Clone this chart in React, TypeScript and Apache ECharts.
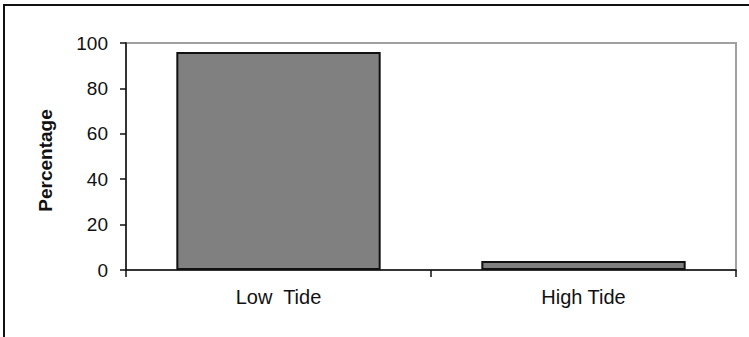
import React, { useEffect, useRef } from "react";
import * as echarts from "echarts";

const categories = ["Low  Tide", "High Tide"];
const percentages = [96, 4];
const yAxisTitle = "Percentage";

export default function App() {
  const ref = useRef<HTMLDivElement>(null);
  useEffect(() => {
    document.body.style.margin = "0";
    const chart = echarts.init(ref.current!, null, { renderer: "svg" });
    const font = "Arial, 'Liberation Sans', sans-serif";
    chart.setOption({
      animation: false,
      backgroundColor: "#fff",
      grid: {
        left: 126,
        top: 43,
        right: 13,
        bottom: 67,
        show: true,
        borderColor: "#a0a0a0",
        borderWidth: 2,
        backgroundColor: "transparent",
      },
      xAxis: {
        type: "category",
        data: categories,
        axisLine: { lineStyle: { color: "#111", width: 1.5 } },
        axisTick: { show: true, length: 7, lineStyle: { color: "#111", width: 1.5 } },
        axisLabel: { color: "#111", fontSize: 20, fontFamily: font, margin: 17 },
      },
      yAxis: {
        type: "value",
        min: 0,
        max: 100,
        interval: 20,
        splitLine: { show: false },
        axisLine: { show: true, lineStyle: { color: "#111", width: 1.5 } },
        axisTick: { show: true, length: 6, lineStyle: { color: "#111", width: 1.5 } },
        axisLabel: { color: "#111", fontSize: 19, fontFamily: font, margin: 18 },
      },
      graphic: [
        {
          type: "rect",
          shape: { x: 4, y: 5, width: 800, height: 400 },
          style: { fill: "none", stroke: "#111", lineWidth: 2 },
          silent: true,
        },
        {
          type: "text",
          x: 45.5,
          y: 160.5,
          rotation: Math.PI / 2,
          style: {
            text: yAxisTitle,
            fontSize: 19,
            fontWeight: "bold",
            fontFamily: font,
            fill: "#111",
            align: "center",
            verticalAlign: "middle",
          },
        },
      ],
      series: [
        {
          type: "bar",
          data: percentages,
          barWidth: "67%",
          itemStyle: { color: "#808080", borderColor: "#111", borderWidth: 2 },
        },
      ],
    });
    return () => chart.dispose();
  }, []);
  return <div ref={ref} style={{ width: 749, height: 337 }} />;
}
